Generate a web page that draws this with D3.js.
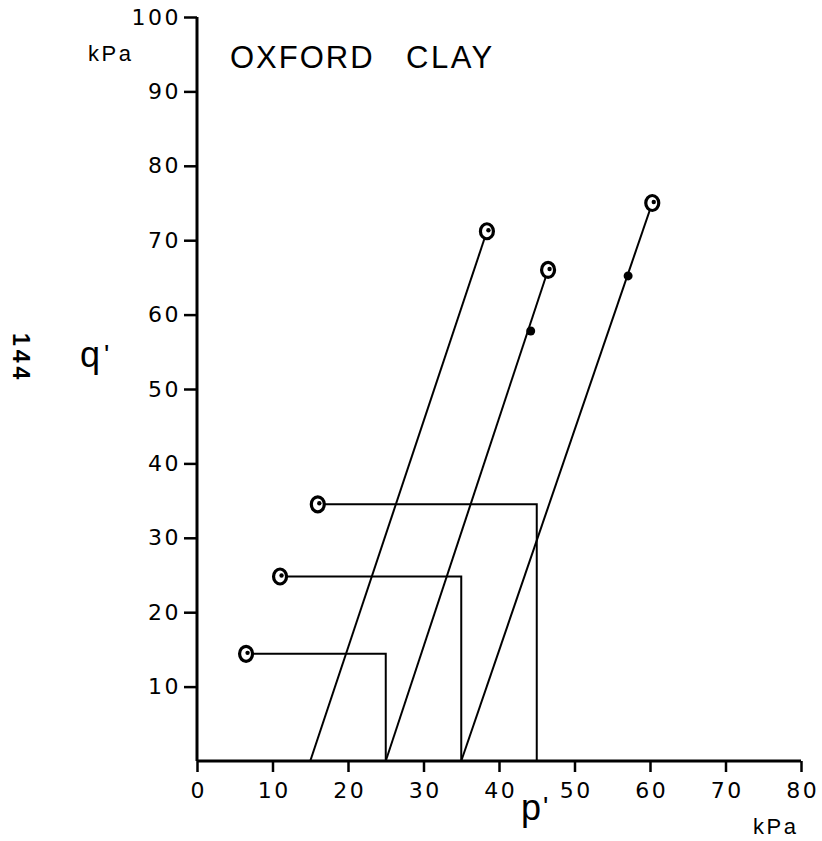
<!DOCTYPE html>
<html>
<head>
<meta charset="utf-8">
<script src="https://cdn.jsdelivr.net/npm/d3@7/dist/d3.min.js"></script>
<style>
  html, body { margin: 0; padding: 0; background: #fff; }
  svg { display: block; }
</style>
</head>
<body>
<svg id="chart" width="822" height="841"></svg>
<script>
// Axis ticks (kPa)
const pTicks = [0, 10, 20, 30, 40, 50, 60, 70, 80];
const qTicks = [10, 20, 30, 40, 50, 60, 70, 80, 90, 100];

// Total stress paths: start point, then horizontal to the cell pressure and down to q' = 0
const totalStartP = [6.5, 11, 16];
const totalStartQ = [14.4, 24.8, 34.5];
const cellP = [25, 35, 45];

// Effective stress paths: from q' = 0 up to failure
const effStartP = [15, 25, 35];
const effEndP = [38.4, 46.5, 60.3];
const effEndQ = [71.2, 66, 75];

// Intermediate readings on the effective paths
const midP = [44.2, 57.1];
const midQ = [57.8, 65.2];

const LABEL_FONT = "'Liberation Sans', Arial, sans-serif";
const TICK_FONT = "'DejaVu Sans', sans-serif";

const svg = d3.select("#chart");
const x = d3.scaleLinear().domain([0, 80]).range([197, 801]);
const y = d3.scaleLinear().domain([0, 100]).range([761, 17]);

// Axes
const xAxis = d3.axisBottom(x).tickValues(pTicks).tickSize(11).tickSizeOuter(0).tickPadding(10);
const yAxis = d3.axisLeft(y).tickValues(qTicks).tickSize(13).tickSizeOuter(0).tickPadding(3);

const gx = svg.append("g").attr("transform", `translate(0,${y(0)})`).call(xAxis);
const gy = svg.append("g").attr("transform", `translate(${x(0)},0)`).call(yAxis);

[gx, gy].forEach(g => {
  g.select(".domain").attr("stroke", "#000").attr("stroke-width", 3);
  g.selectAll(".tick line").attr("stroke", "#000").attr("stroke-width", 2.5);
  g.selectAll(".tick text")
    .style("font-family", TICK_FONT)
    .style("font-size", "22px")
    .style("letter-spacing", "2.5px")
    .style("fill", "#000");
});
gx.selectAll(".tick text").attr("dx", 1.2);
gx.select(".domain").attr("d", `M${x(0)},0H${x(80)}`);
gy.select(".domain").attr("d", `M0,${y(100)}V${y(0)}`);

const line = d3.line().x(d => x(d[0])).y(d => y(d[1]));
const plot = svg.append("g").attr("fill", "none").attr("stroke", "#000").attr("stroke-width", 2);

// Total stress paths
totalStartP.forEach((p, i) => {
  plot.append("path").attr("d", line([[p, totalStartQ[i]], [cellP[i], totalStartQ[i]], [cellP[i], 0]]));
});

// Effective stress paths
effStartP.forEach((p, i) => {
  plot.append("path").attr("d", line([[p, 0], [effEndP[i], effEndQ[i]]]));
});

// Open circles at start and failure points
const circles = totalStartP.map((p, i) => [p, totalStartQ[i]])
  .concat(effEndP.map((p, i) => [p, effEndQ[i]]));
svg.append("g").selectAll("ellipse").data(circles).join("ellipse")
  .attr("cx", d => x(d[0])).attr("cy", d => y(d[1])).attr("rx", 6.5).attr("ry", 7.5)
  .attr("fill", "#fff").attr("stroke", "#000").attr("stroke-width", 3.2);
svg.append("g").selectAll("circle").data(circles).join("circle")
  .attr("cx", d => x(d[0]) + 1.5).attr("cy", d => y(d[1]) - 1).attr("r", 2.2)
  .attr("fill", "#000");

// Solid dots at intermediate readings
svg.append("g").selectAll("circle").data(midP.map((p, i) => [p, midQ[i]])).join("circle")
  .attr("cx", d => x(d[0])).attr("cy", d => y(d[1])).attr("r", 4.5)
  .attr("fill", "#000");

// Labels
function label(px, py, size, spacing, str, weight) {
  return svg.append("text").attr("x", px).attr("y", py)
    .style("font-family", LABEL_FONT).style("font-size", size + "px")
    .style("letter-spacing", spacing + "px").style("font-weight", weight || "normal")
    .style("fill", "#000").text(str);
}
label(88, 61, 22, 2.5, "kPa");
label(230, 68, 31, 2, "OXFORD");
label(406, 68, 31, 2.5, "CLAY");

label(80, 367, 36, 0, "q");
label(104, 364, 28, 0, "'");

label(521, 820, 36, 0, "p");
label(543, 816, 28, 0, "'");
label(753, 834, 22, 2.5, "kPa");

// Page number, set vertically
label(0, 0, 23, 4, "144", "bold").attr("transform", "translate(13,333) rotate(90)");
</script>
</body>
</html>
